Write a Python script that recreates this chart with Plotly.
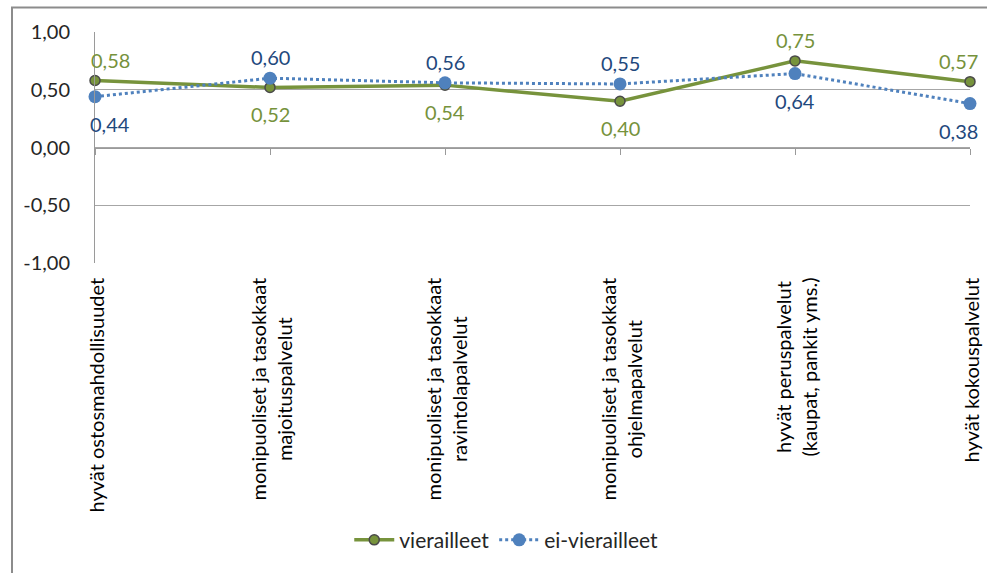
import plotly.graph_objects as go

categories = [
    "hyvät ostosmahdollisuudet",
    "monipuoliset ja tasokkaat<br>majoituspalvelut",
    "monipuoliset ja tasokkaat<br>ravintolapalvelut",
    "monipuoliset ja tasokkaat<br>ohjelmapalvelut",
    "hyvät peruspalvelut<br>(kaupat, pankit yms.)",
    "hyvät kokouspalvelut",
]
vierailleet = [0.58, 0.52, 0.54, 0.40, 0.75, 0.57]
ei_vierailleet = [0.44, 0.60, 0.56, 0.55, 0.64, 0.38]
# label side for each point: +1 above, -1 below
vier_side = [1, -1, -1, -1, 1, 1]
ei_side = [-1, 1, 1, 1, -1, -1]
y_tickvals = [1.0, 0.5, 0.0, -0.5, -1.0]
y_ticktext = ["1,00", "0,50", "0,00", "-0,50", "-1,00"]

FONT = "Lato, 'Open Sans', sans-serif"
FS = 20
GREEN = "#77933C"
BLUE = "#4F81BD"
GREEN_TXT = "#76923C"
BLUE_TXT = "#1F497D"
ABOVE_SHIFT = 21
BELOW_SHIFT = -27
EDGE_SHIFT = 15

def fmt(v):
    return f"{v:.2f}".replace(".", ",")

fig = go.Figure()
fig.add_trace(go.Scatter(
    x=categories, y=vierailleet, name="vierailleet",
    mode="lines+markers",
    line=dict(color=GREEN, width=3.5),
    marker=dict(size=10, color=GREEN, line=dict(color="#4a4a4a", width=1.5)),
    cliponaxis=False,
))
fig.add_trace(go.Scatter(
    x=categories, y=ei_vierailleet, name="ei-vierailleet",
    mode="lines+markers",
    line=dict(color=BLUE, width=3, dash="dot"),
    marker=dict(size=13, color=BLUE),
    cliponaxis=False,
    xaxis="x2",
))

annotations = [
    dict(x=c, xref="x", y=0, yref="paper", yanchor="top", xanchor="center",
         yshift=-13, text=c, textangle=-90, align="center", showarrow=False,
         font=dict(family=FONT, size=FS, color="#000000"))
    for c in categories
]

n = len(categories)
for vals, sides, col in ((vierailleet, vier_side, GREEN_TXT), (ei_vierailleet, ei_side, BLUE_TXT)):
    for i, (c, v, s) in enumerate(zip(categories, vals, sides)):
        xs = EDGE_SHIFT if i == 0 else (-EDGE_SHIFT + 3 if i == n - 1 else 0)
        annotations.append(dict(
            x=c, xref="x", y=v, yref="y", text=fmt(v), showarrow=False,
            xanchor="center", yanchor="middle",
            yshift=ABOVE_SHIFT if s > 0 else BELOW_SHIFT, xshift=xs,
            font=dict(family=FONT, size=FS, color=col),
        ))

fig.update_layout(
    width=987, height=573,
    margin=dict(l=95, r=17, t=32, b=305),
    paper_bgcolor="white", plot_bgcolor="white",
    font=dict(family=FONT, size=FS, color="#000000"),
    showlegend=True,
    legend=dict(orientation="h", x=0.47, xanchor="center", y=-1.2, yanchor="middle",
                font=dict(family=FONT, size=21, color="#262626"), itemwidth=40),
    xaxis=dict(
        type="category", categoryorder="array", categoryarray=categories,
        range=[0, n - 1],
        showgrid=False, showline=False, ticks="", showticklabels=False,
    ),
    xaxis2=dict(
        type="category", categoryorder="array", categoryarray=categories,
        range=[0, n - 1],
        overlaying="x", anchor="free", position=0.5,
        showgrid=False, showline=True, linecolor="#9a9a9a", linewidth=1,
        ticks="outside", ticklen=6, tickcolor="#9a9a9a", showticklabels=False,
    ),
    yaxis=dict(
        range=[-1, 1], tickvals=y_tickvals, ticktext=y_ticktext,
        showgrid=True, gridcolor="#a6a6a6", gridwidth=1,
        zeroline=False, showline=True, linecolor="#9a9a9a", linewidth=1,
        ticks="", ticklabelstandoff=20,
        tickfont=dict(family=FONT, size=FS, color="#262626"),
        automargin=False,
    ),
    annotations=annotations,
    shapes=[dict(type="rect", xref="paper", yref="paper",
                 x0=-95/875 + 12/875, x1=1.2, y0=-2, y1=1 + 25/236,
                 line=dict(color="#8c8c8c", width=2), layer="below")],
)

fig.write_html("out.html")
